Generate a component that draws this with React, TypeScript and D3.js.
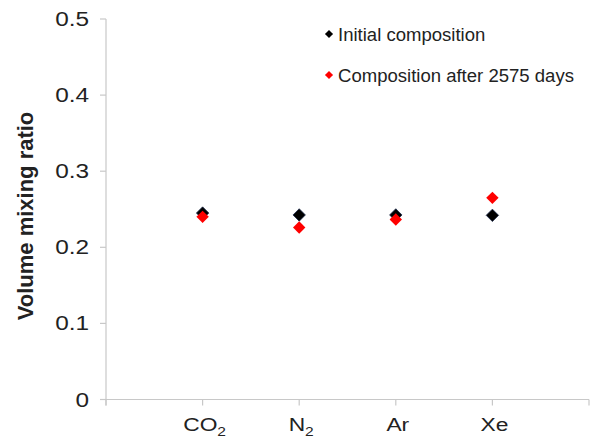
import React from "react";
import * as d3 from "d3";

const gases = ["CO2", "N2", "Ar", "Xe"];
const gasMain = ["CO", "N", "Ar", "Xe"];
const gasSub = ["2", "2", "", ""];
const initialComposition = [0.245, 0.2425, 0.2425, 0.242];
const afterComposition = [0.24, 0.226, 0.2365, 0.265];
const yTicks = [0, 0.1, 0.2, 0.3, 0.4, 0.5];
const xTicks = [0, 1, 2, 3, 4, 5];
const seriesNames = ["Initial composition", "Composition after 2575 days"];
const seriesColors = ["#000000", "#ff0000"];

const W = 593;
const H = 443;
const FONT = "Arial, 'Liberation Sans', Helvetica, sans-serif";

export default function App() {
  const x = d3.scaleLinear().domain([0, 5]).range([106, 589]);
  const y = d3.scaleLinear().domain([0, 0.5]).range([399.5, 19]);
  const fmt = d3.format("~g");
  const diamond = d3.symbol().type(d3.symbolDiamond2).size(98)() as string;
  const legendDiamond = d3.symbol().type(d3.symbolDiamond2).size(42)() as string;
  const axisColor = "#c8c8c8";

  const series = [initialComposition, afterComposition];

  return (
    <svg
      width={W}
      height={H}
      style={{ position: "absolute", left: 0, top: 0, background: "#fff" }}
      fontFamily={FONT}
    >
      {/* y axis */}
      <line x1={x(0)} x2={x(0)} y1={y(0.5)} y2={y(0) + 6} stroke={axisColor} strokeWidth={1.2} />
      {yTicks.map((t) => (
        <g key={t}>
          <line x1={x(0) - 6} x2={x(0)} y1={y(t)} y2={y(t)} stroke={axisColor} strokeWidth={1.2} />
          <text
            transform={`translate(${x(0) - 17},${y(t) + 7}) scale(1.25,1)`}
            textAnchor="end"
            fontSize={19.5}
            fill="#222"
          >
            {fmt(t)}
          </text>
        </g>
      ))}

      {/* x axis */}
      <line x1={x(0)} x2={x(5)} y1={y(0)} y2={y(0)} stroke={axisColor} strokeWidth={1.2} />
      {xTicks.map((t) => (
        <line key={t} x1={x(t)} x2={x(t)} y1={y(0)} y2={y(0) + 6} stroke={axisColor} strokeWidth={1.2} />
      ))}
      {gases.map((g, i) => (
        <text
          key={g}
          transform={`translate(${x(i + 1) + 2},431) scale(1.2,1)`}
          textAnchor="middle"
          fontSize={19}
          fill="#222"
        >
          {gasMain[i]}
          {gasSub[i] && (
            <tspan fontSize={13} dy={5}>
              {gasSub[i]}
            </tspan>
          )}
        </text>
      ))}

      {/* y axis title */}
      <text
        transform={`translate(33,216) rotate(-90)`}
        textAnchor="middle"
        fontSize={22}
        fontWeight="bold"
        fill="#222"
      >
        Volume mixing ratio
      </text>

      {/* data points */}
      {series.map((vals, si) =>
        vals.map((v, i) => (
          <path
            key={`${si}-${i}`}
            d={diamond}
            transform={`translate(${x(i + 1)},${y(v)})`}
            fill={seriesColors[si]}
            stroke={si === 0 ? "#1c2a4a" : "none"}
            strokeWidth={0.8}
          />
        ))
      )}

      {/* legend */}
      {seriesNames.map((name, si) => (
        <g key={name} transform={`translate(329,${34 + si * 41})`}>
          <path d={legendDiamond} fill={seriesColors[si]} />
          <text
            transform={`translate(9,7) scale(1.06,1)`}
            fontSize={17.5}
            fill="#222"
          >
            {name}
          </text>
        </g>
      ))}
    </svg>
  );
}
